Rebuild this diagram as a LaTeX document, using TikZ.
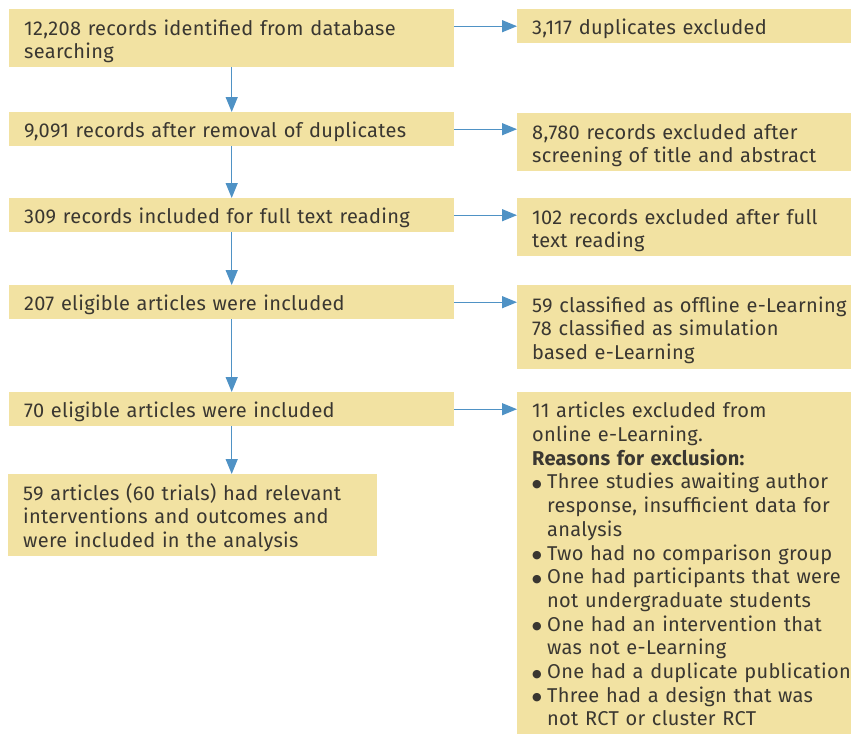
\documentclass[tikz,border=0pt]{standalone}
\usepackage{fontspec}
\setmainfont{Fira Sans}[LetterSpace=1.5]
\newfontfamily\symfont{DejaVu Sans}
\usetikzlibrary{arrows.meta}
\definecolor{boxfill}{HTML}{F2E2A2}
\definecolor{txt}{HTML}{3A3731}
\definecolor{arr}{HTML}{4F92C5}
\newcommand\bul{\makebox[15pt][l]{\raisebox{1.5pt}{\symfont\fontsize{11}{11}\selectfont ●}}}
\newcommand\ind{\hspace*{15pt}}
\begin{document}
\begin{tikzpicture}[x=1pt,y=-1pt,
  box/.style={fill=boxfill, text=txt, draw=none, anchor=north west,
    inner xsep=15pt, inner ysep=0pt, align=left,
    font=\fontsize{20}{23.7}\selectfont,
    execute at begin node={\rule{0pt}{23.4pt}},
    execute at end node={\rule[-6pt]{0pt}{0pt}}},
  lbox/.style={box, minimum width=445pt, text width=415pt},
  rbox/.style={box, minimum width=334pt, text width=304pt},
  link/.style={draw=arr, line width=1.3pt, -{Triangle[length=15pt,width=12pt]}}]
\useasboundingbox (0,0) rectangle (851,734);

\node[lbox, minimum height=58pt] (b1) at (9,9) {12,208 records identified from database\\searching};
\node[lbox, minimum height=34pt] (b2) at (9,112) {9,091 records after removal of duplicates};
\node[lbox, minimum height=34pt] (b3) at (9,198) {309 records included for full text reading};
\node[lbox, minimum height=34pt] (b4) at (9,285) {207 eligible articles were included};
\node[lbox, minimum height=34pt] (b5) at (9,392) {70 eligible articles were included};
\node[box, minimum width=369pt, text width=339pt, minimum height=82pt] (b6) at (8,474)
  {59 articles (60 trials) had relevant\\interventions and outcomes and\\were included in the analysis};

\node[rbox, minimum height=34pt] (r1) at (517,9) {3,117 duplicates excluded};
\node[rbox, minimum height=58pt] (r2) at (517,113) {8,780 records excluded after\\screening of title and abstract};
\node[rbox, minimum height=58pt] (r3) at (517,198) {102 records excluded after full\\text reading};
\node[rbox, minimum height=84pt] (r4) at (517,285) {\mbox{59 classified as offline e-Learning}\\78 classified as simulation\\based e-Learning};
\node[rbox, minimum height=342pt] (r5) at (517,392) {11 articles excluded from\\
online e-Learning.\\
\textbf{Reasons for exclusion:}\\
\mbox{\bul Three studies awaiting author}\\
\mbox{\ind response, insufficient data for}\\
\ind analysis\\
\mbox{\bul Two had no comparison group}\\
\mbox{\bul One had participants that were}\\
\mbox{\ind not undergraduate students}\\
\mbox{\bul One had an intervention that}\\
\ind was not e-Learning\\
\mbox{\bul One had a duplicate publication}\\
\mbox{\bul Three had a design that was}\\
\mbox{\ind not RCT or cluster RCT}};

\draw[link] (b1.south) -- (b2.north);
\draw[link] (b2.south) -- (b3.north);
\draw[link] (b3.south) -- (b4.north);
\draw[link] (b4.south) -- (b5.north);
\draw[link] (b5.south) -- (b5.south |- b6.north);

\draw[link] (b1.east |- r1.west) -- (r1.west);
\draw[link] (b2.east) -- (b2.east -| r2.west);
\draw[link] (b3.east) -- (b3.east -| r3.west);
\draw[link] (b4.east) -- (b4.east -| r4.west);
\draw[link] (b5.east) -- (b5.east -| r5.west);
\end{tikzpicture}
\end{document}
